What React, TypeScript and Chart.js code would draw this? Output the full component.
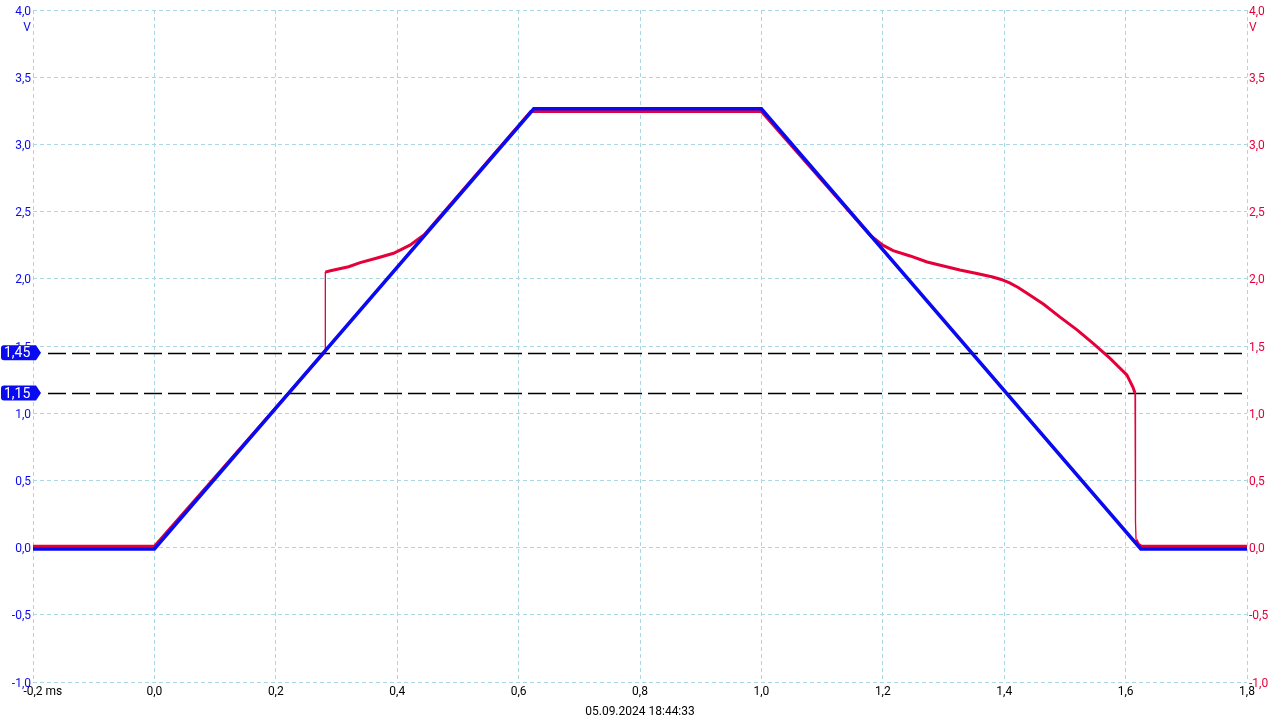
import React, { useEffect, useRef } from "react";
import { Chart, registerables } from "chart.js";

Chart.register(...registerables);

// Channel A (blue) – time in ms, voltage in V
const blueTimes = [-0.2, 0.0, 0.625, 1.0, 1.625, 1.8];
const blueValues = [-0.01, -0.01, 3.265, 3.265, -0.01, -0.01];

// Channel B (red)
const redTimes = [
  -0.2, 0.0, 0.2815, 0.2816, 0.29, 0.305, 0.32, 0.339, 0.367, 0.394, 0.421,
  0.445, 0.62, 1.0, 1.18, 1.2, 1.217, 1.245, 1.273, 1.3, 1.327, 1.355, 1.381,
  1.395, 1.409, 1.423, 1.437, 1.465, 1.492, 1.52, 1.546, 1.574, 1.602, 1.612,
  1.6155, 1.6156, 1.617, 1.6172, 1.621, 1.626, 1.8,
];
const redValues = [
  0.01, 0.01, 1.46, 2.05, 2.06, 2.075, 2.09, 2.12, 2.155, 2.19, 2.25, 2.33,
  3.245, 3.245, 2.32, 2.25, 2.21, 2.17, 2.125, 2.095, 2.065, 2.04, 2.013,
  1.995, 1.969, 1.935, 1.894, 1.81, 1.715, 1.62, 1.522, 1.41, 1.285, 1.195,
  1.15, 0.19, 0.19, 0.06, 0.025, 0.01, 0.01,
];

// threshold cursors
const markerValues = [1.45, 1.15];
const markerLabels = ["1,45", "1,15"];

const timeStamp = "05.09.2024 18:44:33";

const BLUE = "#0a0af0";
const RED = "#e6003a";
const GRID = "#a9d8e3";
const FONT = "Roboto, 'Noto Sans', sans-serif";

const fmt = (v: number) => Number(v).toFixed(1).replace(".", ",");

const overlayPlugin = {
  id: "overlay",
  beforeDatasetsDraw(chart: any) {
    const { ctx, chartArea, scales } = chart;
    ctx.save();
    ctx.strokeStyle = "#000";
    ctx.lineWidth = 1.5;
    ctx.setLineDash([18, 6]);
    markerValues.forEach((v) => {
      const y = Math.round(scales.y.getPixelForValue(v)) + 0.5;
      ctx.beginPath();
      ctx.moveTo(48, y);
      ctx.lineTo(chartArea.right, y);
      ctx.stroke();
    });
    ctx.restore();
  },
  afterDraw(chart: any) {
    const { ctx, chartArea, scales } = chart;
    ctx.save();
    ctx.font = `12px ${FONT}`;
    ctx.textBaseline = "middle";

    // units
    const vy = chartArea.top + 18;
    ctx.fillStyle = BLUE;
    ctx.textAlign = "right";
    ctx.fillText("V", chartArea.left - 2, vy);
    ctx.fillStyle = RED;
    ctx.textAlign = "left";
    ctx.fillText("V", chartArea.right + 2, vy);

    // "ms" after first x tick
    const x0 = scales.x.getPixelForValue(-0.2);
    const w = ctx.measureText("-0,2").width;
    ctx.fillStyle = "#000";
    ctx.textAlign = "left";
    ctx.fillText("ms", x0 + w / 2 + 3, chartArea.bottom + 10);

    // cursor flags
    markerValues.forEach((v, i) => {
      const y = scales.y.getPixelForValue(v);
      const h = 7.5;
      ctx.beginPath();
      ctx.moveTo(4, y - h);
      ctx.lineTo(36, y - h);
      ctx.lineTo(41, y);
      ctx.lineTo(36, y + h);
      ctx.lineTo(4, y + h);
      ctx.quadraticCurveTo(1, y + h, 1, y + h - 3);
      ctx.lineTo(1, y - h + 3);
      ctx.quadraticCurveTo(1, y - h, 4, y - h);
      ctx.closePath();
      ctx.fillStyle = BLUE;
      ctx.fill();
      ctx.fillStyle = "#fff";
      ctx.font = `14px ${FONT}`;
      ctx.textAlign = "left";
      ctx.fillText(markerLabels[i], 4, y + 1);
    });
    ctx.restore();
  },
};

export default function App() {
  const canvasRef = useRef<HTMLCanvasElement | null>(null);
  const chartRef = useRef<Chart | null>(null);

  useEffect(() => {
    if (!canvasRef.current) return;
    const ctx = canvasRef.current.getContext("2d");
    if (!ctx) return;
    if (chartRef.current) chartRef.current.destroy();

    const thin = (c: any) =>
      Math.abs(c.p1.parsed.x - c.p0.parsed.x) < 0.003 ? 1.3 : undefined;

    chartRef.current = new Chart(ctx, {
      type: "line",
      data: {
        datasets: [
          {
            label: "A",
            data: blueTimes.map((t, i) => ({ x: t, y: blueValues[i] })),
            borderColor: BLUE,
            borderWidth: 3.5,
            pointRadius: 0,
            yAxisID: "y",
          },
          {
            label: "B",
            data: redTimes.map((t, i) => ({ x: t, y: redValues[i] })),
            borderColor: RED,
            borderWidth: 3,
            pointRadius: 0,
            yAxisID: "y",
            segment: { borderWidth: thin },
          },
        ],
      },
      options: {
        responsive: true,
        maintainAspectRatio: false,
        animation: false,
        layout: { padding: { top: 10, left: 0, right: 0, bottom: 0 } },
        plugins: {
          legend: { display: false },
          tooltip: { enabled: false },
        },
        scales: {
          x: {
            type: "linear",
            min: -0.2,
            max: 1.8,
            afterFit: (s: any) => {
              s.height = 38;
            },
            ticks: {
              stepSize: 0.2,
              color: "#000",
              font: { family: FONT, size: 12 },
              padding: 3,
              maxRotation: 0,
              callback: (v: any) => fmt(v),
            },
            grid: { color: GRID, drawTicks: false },
            border: { display: false, dash: [4, 3] },
            title: {
              display: true,
              text: timeStamp,
              color: "#000",
              font: { family: FONT, size: 12 },
              padding: { top: 0, bottom: 1 },
            },
          },
          y: {
            position: "left",
            min: -1,
            max: 4,
            afterFit: (s: any) => {
              s.width = 33;
            },
            ticks: {
              stepSize: 0.5,
              color: BLUE,
              font: { family: FONT, size: 12 },
              padding: 2,
              labelOffset: 1.5,
              callback: (v: any) => fmt(v),
            },
            grid: { color: GRID, drawTicks: false },
            border: { display: false, dash: [4, 3] },
          },
          y2: {
            position: "right",
            min: -1,
            max: 4,
            afterFit: (s: any) => {
              s.width = 33;
            },
            ticks: {
              stepSize: 0.5,
              color: RED,
              font: { family: FONT, size: 12 },
              padding: 2,
              labelOffset: 1.5,
              callback: (v: any) => fmt(v),
            },
            grid: { display: false, drawTicks: false },
            border: { display: false },
          },
        },
      },
      plugins: [overlayPlugin],
    });

    return () => {
      if (chartRef.current) {
        chartRef.current.destroy();
        chartRef.current = null;
      }
    };
  }, []);

  return (
    <div
      style={{
        position: "fixed",
        left: 0,
        top: 0,
        width: 1280,
        height: 720,
        background: "#fff",
      }}
    >
      <canvas ref={canvasRef} />
    </div>
  );
}
